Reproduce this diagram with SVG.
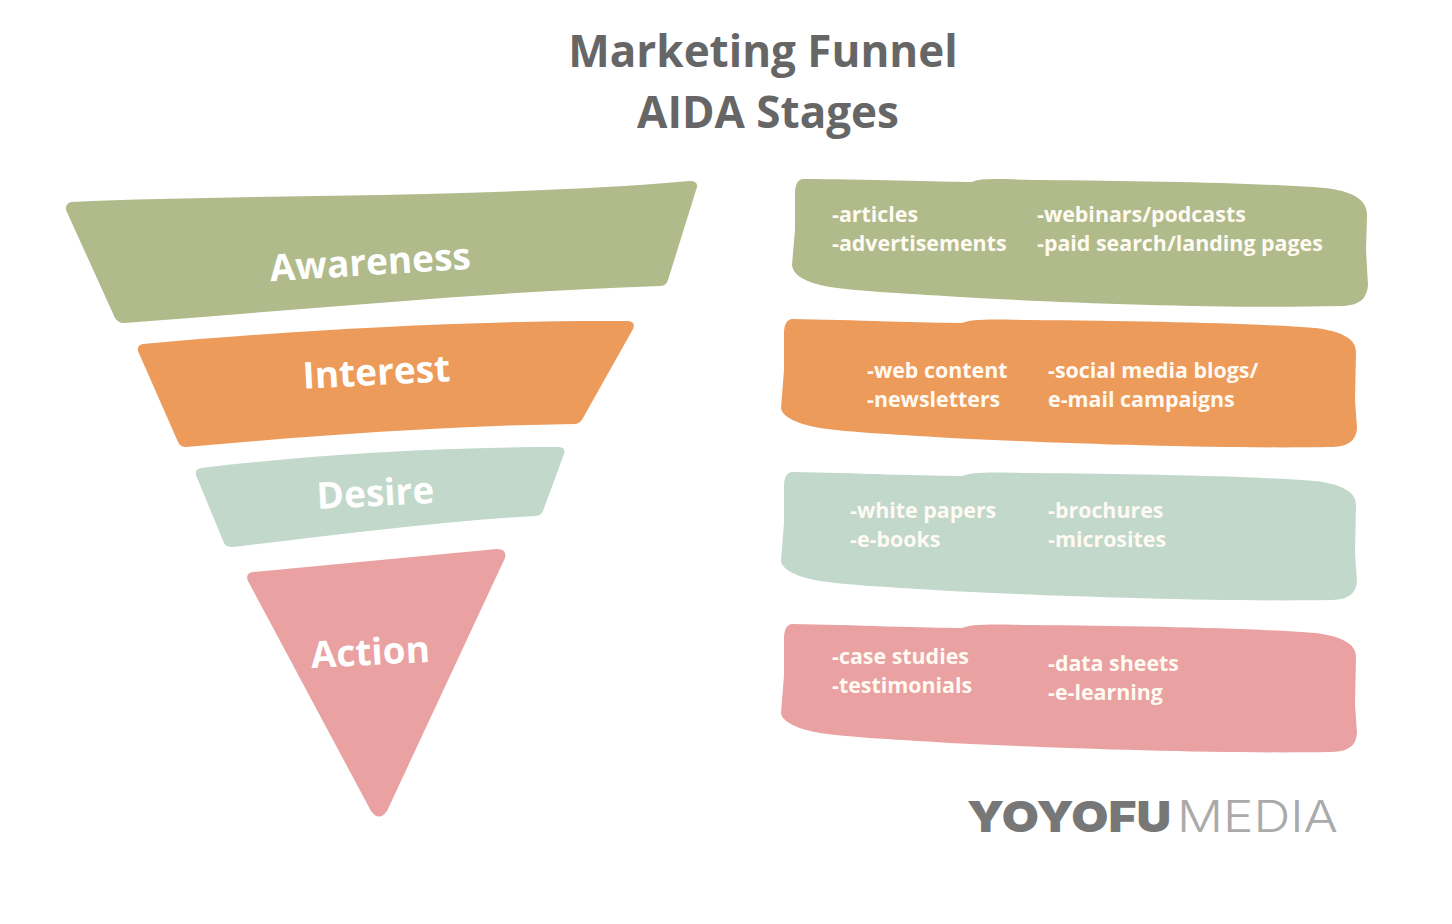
<svg xmlns="http://www.w3.org/2000/svg" width="1452" height="924" viewBox="0 0 1452 924">
<style>
text{font-family:"Open Sans","Noto Sans",sans-serif}
.t{font-size:44px;font-weight:700;fill:#666;text-anchor:middle}
.s{font-size:37px;font-weight:700;fill:#fff;text-anchor:middle}
.i{font-size:21.4px;font-weight:700;fill:#fffaf2}
.g{fill:#b0ba8a}.o{fill:#ed9b5b}.m{fill:#c1d8cb}.p{fill:#eaa1a1}
.y{font-family:Inter,sans-serif;font-size:43px;font-weight:900;fill:#777}
.d{font-family:Inter,sans-serif;font-size:43px;font-weight:300;fill:#aaa}
</style>
<rect width="1452" height="924" fill="#fff"/>
<g id="title"><text class="t" x="763" y="67">Marketing Funnel</text><text class="t" x="768" y="128">AIDA Stages</text></g>
<g id="awareness"><path class="g" d="M71 202 C250 194 500 198 690 181 Q698 181 697 187 L668 280 Q666 286 660 286 C480 292 300 310 124 323 Q118 323 115 318 L66 210 Q65 204 71 202Z"/><text class="s" transform="translate(371 275) rotate(-3.5)">Awareness</text></g>
<g id="interest"><path class="o" d="M143 344 C300 330 470 320 628 321 Q636 322 633 329 L583 418 Q580 424 574 424 C440 426 310 436 186 447 Q180 447 178 442 L138 351 Q137 345 143 344Z"/><text class="s" transform="translate(377 385) rotate(-3)">Interest</text></g>
<g id="desire"><path class="m" d="M201 468 C320 454 440 447 559 447 Q566 448 564 454 L543 511 Q541 516 535 516 C430 522 330 536 232 547 Q226 547 224 543 L196 475 Q195 469 201 468Z"/><text class="s" transform="translate(376 506) rotate(-3)">Desire</text></g>
<g id="action"><path class="p" d="M253 572 L497 549 Q507 549 505 558 L387 811 Q379 822 371 811 L248 581 Q245 573 253 572Z"/><text class="s" transform="translate(371 665) rotate(-3)">Action</text></g>
<g id="box1"><path class="g" d="M803 179 C860 179 940 182 972 182 C980 178 1000 179 1040 180 C1150 181 1260 183 1325 188 C1350 191 1367 198 1367 215 L1366 250 L1368 285 C1367 300 1358 306 1340 306 C1230 309 1060 303 960 297 C900 293 850 291 825 286 C805 282 793 275 792 265 L795 230 L795 195 C795 185 797 180 803 179Z"/><text class="i" x="832" y="222">-articles</text><text class="i" x="832" y="251">-advertisements</text><text class="i" x="1037" y="222">-webinars/podcasts</text><text class="i" x="1037" y="251">-paid search/landing pages</text></g>
<g id="box2"><path class="o" d="M792 319 C850 320 930 323 962 323 C970 319 990 319 1030 320 C1140 321 1250 323 1315 328 C1340 331 1356 338 1356 352 L1355 400 L1357 428 C1356 442 1347 447 1329 447 C1220 449 1050 443 950 438 C890 434 840 432 815 427 C795 423 782 416 781 408 L784 370 L784 335 C784 325 786 320 792 319Z"/><text class="i" x="867" y="378">-web content</text><text class="i" x="867" y="407">-newsletters</text><text class="i" x="1048" y="378">-social media blogs/</text><text class="i" x="1048" y="407">e-mail campaigns</text></g>
<g id="box3"><path class="m" d="M792 472 C850 473 930 476 962 476 C970 472 990 472 1030 473 C1140 474 1250 476 1315 481 C1340 484 1356 491 1356 505 L1355 553 L1357 581 C1356 595 1347 600 1329 600 C1220 602 1050 596 950 591 C890 587 840 585 815 580 C795 576 782 569 781 561 L784 523 L784 488 C784 478 786 473 792 472Z"/><text class="i" x="850" y="518">-white papers</text><text class="i" x="850" y="547">-e-books</text><text class="i" x="1048" y="518">-brochures</text><text class="i" x="1048" y="547">-microsites</text></g>
<g id="box4"><path class="p" d="M792 624 C850 625 930 628 962 628 C970 624 990 624 1030 625 C1140 626 1250 628 1315 633 C1340 636 1356 643 1356 657 L1355 705 L1357 733 C1356 747 1347 752 1329 752 C1220 754 1050 748 950 743 C890 739 840 737 815 732 C795 728 782 721 781 713 L784 675 L784 640 C784 630 786 625 792 624Z"/><text class="i" x="832" y="664">-case studies</text><text class="i" x="832" y="693">-testimonials</text><text class="i" x="1048" y="671">-data sheets</text><text class="i" x="1048" y="700">-e-learning</text></g>
<g id="logo"><text class="y" x="967" y="832" textLength="204" lengthAdjust="spacingAndGlyphs">YOYOFU</text><text class="d" x="1177" y="832" textLength="161" lengthAdjust="spacingAndGlyphs">MEDIA</text></g>
</svg>
